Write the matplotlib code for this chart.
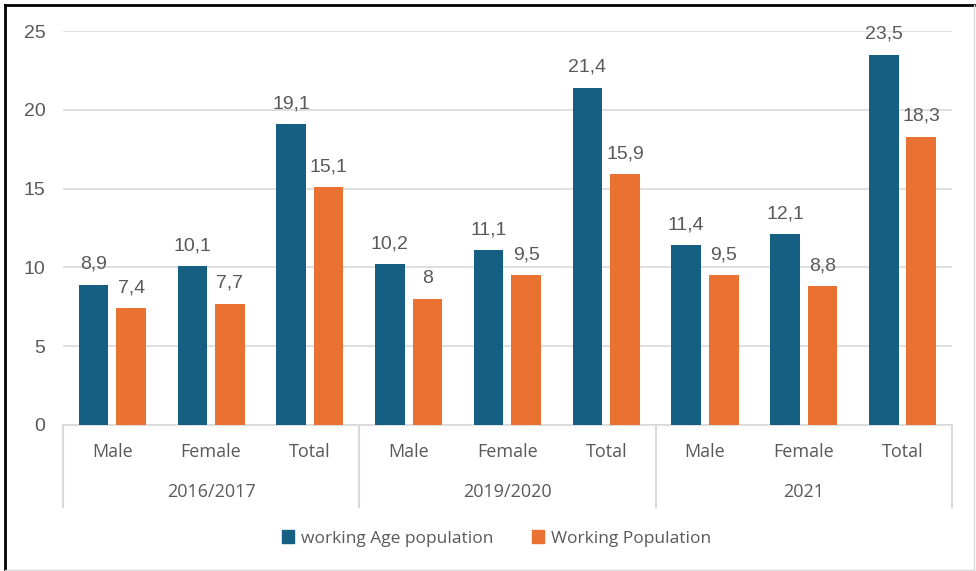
import matplotlib.pyplot as plt
from matplotlib.lines import Line2D
from matplotlib.patches import Patch

groups = ["2016/2017", "2019/2020", "2021"]
subcats = ["Male", "Female", "Total"]
working_age = [8.9, 10.1, 19.1, 10.2, 11.1, 21.4, 11.4, 12.1, 23.5]
working = [7.4, 7.7, 15.1, 8.0, 9.5, 15.9, 9.5, 8.8, 18.3]
series_names = ["working Age population", "Working Population"]

BLUE = "#156082"
ORANGE = "#E97132"
TEXT = "#595959"
GRID = "#D9D9D9"
NUM_FONT = ["Liberation Sans", "DejaVu Sans"]
LBL_FONT = ["Open Sans", "DejaVu Sans"]


def fmt(v):
    s = f"{v:g}"
    return s.replace(".", ",")


fig = plt.figure(figsize=(9.76, 5.71), dpi=100)
ax = fig.add_axes([0.0645, 0.2557, 0.9108, 0.69])

x = list(range(len(working_age)))
w = 0.30
off = 0.19
b1 = ax.bar([i - off for i in x], working_age, w, color=BLUE, zorder=3)
b2 = ax.bar([i + off for i in x], working, w, color=ORANGE, zorder=3)

for bars, vals in ((b1, working_age), (b2, working)):
    for rect, v in zip(bars, vals):
        ax.annotate(fmt(v), (rect.get_x() + rect.get_width() / 2, v),
                    xytext=(0, 8.5), textcoords="offset points",
                    ha="center", va="bottom", fontsize=14,
                    color=TEXT, family=NUM_FONT)

ax.set_xlim(-0.5, len(x) - 0.5)
ax.set_ylim(0, 25)
ax.set_yticks(range(0, 26, 5))
ax.tick_params(axis="y", length=0, pad=12.5, labelsize=14, labelcolor=TEXT)
for t in ax.get_yticklabels():
    t.set_family(NUM_FONT)
ax.set_xticks([])
ax.grid(axis="y", color=GRID, linewidth=1.2, zorder=0)
for s in ("top", "right", "left"):
    ax.spines[s].set_visible(False)
ax.spines["bottom"].set_color(GRID)
ax.spines["bottom"].set_linewidth(1.2)

# two-level category axis below the plot
trans = ax.get_xaxis_transform()
for i, name in enumerate(subcats * len(groups)):
    ax.text(i, -0.069, name, transform=trans, ha="center", va="center",
            fontsize=13, color=TEXT, family=LBL_FONT)
for g, name in enumerate(groups):
    ax.text(g * 3 + 1, -0.17, name, transform=trans, ha="center",
            va="center", fontsize=13, color=TEXT, family=LBL_FONT)
for g in range(len(groups) + 1):
    ax.add_line(Line2D([g * 3 - 0.5] * 2, [0, -0.208], transform=trans,
                       color=GRID, linewidth=1.5, clip_on=False))

handles = [Patch(color=BLUE), Patch(color=ORANGE)]
fig.legend(handles, series_names, loc="center", bbox_to_anchor=(0.509, 0.057),
           ncol=2, frameon=False, handlelength=0.7, handleheight=0.7,
           handletextpad=0.4, columnspacing=2.2,
           prop={"family": LBL_FONT, "size": 12.5}, labelcolor=TEXT)

# outer frame
fig.add_artist(Line2D([0.005, 0.998], [0.992, 0.992], color="black", linewidth=2))
fig.add_artist(Line2D([0.005, 0.005], [0.002, 0.992], color="black", linewidth=2))
fig.add_artist(Line2D([0.998, 0.998], [0.002, 0.992], color=GRID, linewidth=1))
fig.add_artist(Line2D([0.005, 0.998], [0.002, 0.002], color=GRID, linewidth=1))

fig.savefig("out.png", dpi=100)
